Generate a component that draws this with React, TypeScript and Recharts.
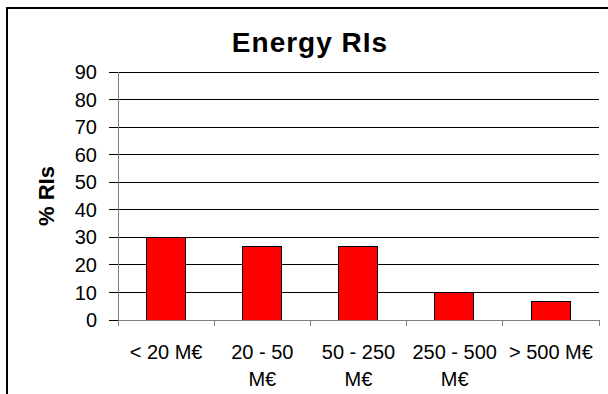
import { BarChart, Bar, XAxis, YAxis, CartesianGrid } from 'recharts'

const categories = ['< 20 M€', '20 - 50\nM€', '50 - 250\nM€', '250 - 500\nM€', '> 500 M€']
const shares = [30, 26.7, 26.7, 10, 6.7]
const yTicks = [0, 10, 20, 30, 40, 50, 60, 70, 80, 90]

const data = categories.map((name, i) => ({ name, value: shares[i] }))

const W = 608
const H = 394
const M = { top: 72, right: 9, left: 0, bottom: 0 }
const Y_W = 118
const X_H = 74
const BAND = (W - M.left - M.right - Y_W) / categories.length
const FONT = '"Liberation Sans", Arial, sans-serif'

const XTick = (props: any) => {
  const { x, y, payload, index } = props
  const lines = String(payload.value).split('\n')
  const left = x - BAND / 2
  return (
    <g>
      <line x1={left} x2={left} y1={y} y2={y + 6} stroke="#808080" shapeRendering="crispEdges" />
      {index === categories.length - 1 && (
        <line
          x1={x + BAND / 2}
          x2={x + BAND / 2}
          y1={y}
          y2={y + 6}
          stroke="#808080"
          shapeRendering="crispEdges"
        />
      )}
      <text x={x} y={y + 39} textAnchor="middle" fontSize={20} fontFamily={FONT} fill="#000">
        {lines.map((l, i) => (
          <tspan key={i} x={x} dy={i === 0 ? 0 : 27}>
            {l}
          </tspan>
        ))}
      </text>
    </g>
  )
}

const YLabel = (props: any) => {
  const vb = props.viewBox || {}
  const cy = vb.y + vb.height / 2
  return (
    <text
      x={46}
      y={cy}
      transform={`rotate(-90 46 ${cy})`}
      textAnchor="middle"
      dominantBaseline="central"
      fontSize={22}
      fontWeight="bold"
      fontFamily={FONT}
      fill="#000"
    >
      % RIs
    </text>
  )
}

export default function App() {
  return (
    <div
      style={{
        position: 'fixed',
        left: 0,
        top: 0,
        width: W,
        height: H,
        overflow: 'hidden',
        background: '#fff',
      }}
    >
      <div
        style={{
          position: 'absolute',
          left: 6,
          top: 7,
          width: 640,
          height: 420,
          borderLeft: '2px solid #000',
          borderTop: '2px solid #000',
        }}
      />
      <div
        style={{
          position: 'absolute',
          left: 0,
          top: 29,
          width: 620,
          textAlign: 'center',
          fontFamily: FONT,
          fontWeight: 'bold',
          fontSize: 28,
          lineHeight: '28px',
          letterSpacing: 1,
          color: '#000',
        }}
      >
        Energy RIs
      </div>
      <div style={{ position: 'absolute', left: 0, top: 0 }}>
        <BarChart width={W} height={H} data={data} margin={M} barCategoryGap="29.5%">
          <CartesianGrid vertical={false} stroke="#000" shapeRendering="crispEdges" />
          <XAxis
            dataKey="name"
            height={X_H}
            interval={0}
            tickSize={0}
            tickMargin={0}
            tickLine={false}
            axisLine={{ stroke: '#808080', shapeRendering: 'crispEdges' }}
            tick={<XTick />}
          />
          <YAxis
            width={Y_W}
            domain={[0, 90]}
            ticks={yTicks}
            interval={0}
            tickSize={9}
            tickMargin={12}
            tickLine={{ stroke: '#000', shapeRendering: 'crispEdges' }}
            axisLine={{ stroke: '#808080', shapeRendering: 'crispEdges' }}
            tick={{ fontSize: 20, fill: '#000', fontFamily: FONT }}
            label={<YLabel />}
          />
          <Bar
            dataKey="value"
            fill="#ff0000"
            stroke="#000"
            strokeWidth={1}
            shapeRendering="crispEdges"
            isAnimationActive={false}
          />
        </BarChart>
      </div>
    </div>
  )
}
